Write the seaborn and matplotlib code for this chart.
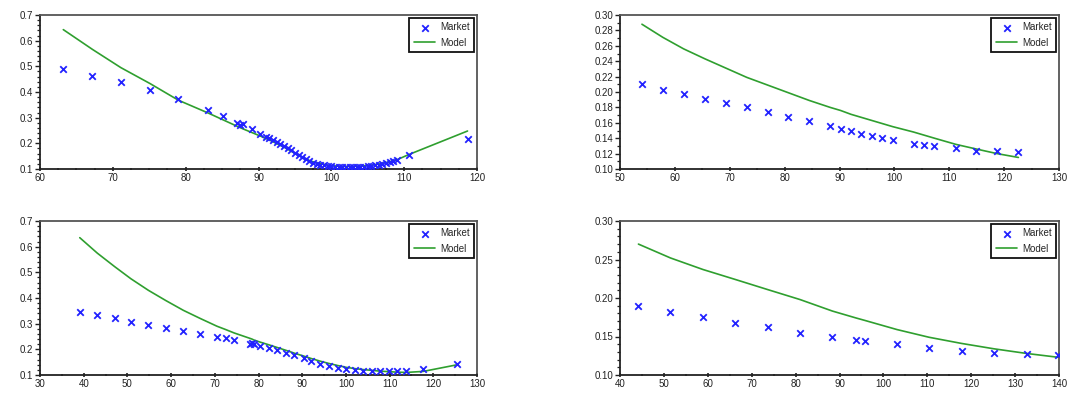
import numpy as np
import pandas as pd
import matplotlib
matplotlib.use("Agg")
import matplotlib.pyplot as plt
from matplotlib.ticker import MultipleLocator
import seaborn as sns

# ---------------- data ----------------
# Panel 1 (top-left)
p1_strike = [63.2, 67.2, 71.1, 75.1, 79.0, 83.1, 85.1, 87.1, 87.5, 87.9, 89.1, 90.2,
             91.0, 91.5, 92.0, 92.5, 93.0, 93.5, 94.0, 94.5, 95.0, 95.5, 96.0, 96.5,
             97.0, 97.5, 98.0, 98.5, 99.0, 99.5, 100.0, 100.5, 101.0, 101.5, 102.0,
             102.5, 103.0, 103.5, 104.0, 104.5, 105.0, 105.5, 106.0, 106.5, 107.0,
             107.5, 108.0, 108.5, 109.0, 110.7, 118.7]
p1_market = [0.489, 0.463, 0.438, 0.407, 0.371, 0.331, 0.307, 0.279, 0.272, 0.276, 0.256, 0.237,
             0.226, 0.220, 0.213, 0.206, 0.199, 0.191, 0.183, 0.175, 0.161, 0.153, 0.145, 0.138,
             0.131, 0.125, 0.120, 0.116, 0.114, 0.112, 0.110, 0.109, 0.108, 0.108, 0.107,
             0.107, 0.107, 0.108, 0.108, 0.109, 0.110, 0.112, 0.114, 0.117, 0.120,
             0.123, 0.127, 0.131, 0.135, 0.156, 0.217]
p1_model = [0.643, 0.566, 0.495, 0.433, 0.368, 0.318, 0.292, 0.266, 0.261, 0.256, 0.242, 0.229,
            0.219, 0.213, 0.206, 0.199, 0.192, 0.185, 0.177, 0.169, 0.161, 0.153, 0.146, 0.139,
            0.133, 0.128, 0.124, 0.121, 0.118, 0.115, 0.113, 0.112, 0.111, 0.110, 0.110,
            0.110, 0.110, 0.111, 0.111, 0.112, 0.114, 0.115, 0.117, 0.119, 0.122,
            0.125, 0.128, 0.132, 0.136, 0.157, 0.248]

# Panel 2 (top-right)
p2_strike = [54.0, 57.8, 61.6, 65.5, 69.3, 73.1, 76.9, 80.7, 84.5, 88.3, 90.2, 92.1,
             94.0, 95.9, 97.8, 99.7, 103.5, 105.4, 107.3, 111.2, 114.9, 118.7, 122.6]
p2_market = [0.210, 0.203, 0.197, 0.191, 0.186, 0.180, 0.174, 0.168, 0.162, 0.156, 0.152, 0.149,
             0.146, 0.143, 0.140, 0.138, 0.133, 0.131, 0.130, 0.127, 0.124, 0.123, 0.122]
p2_model = [0.288, 0.271, 0.256, 0.243, 0.231, 0.219, 0.209, 0.199, 0.189, 0.180, 0.176, 0.171,
            0.167, 0.163, 0.159, 0.155, 0.148, 0.144, 0.140, 0.132, 0.126, 0.120, 0.115]

# Panel 3 (bottom-left)
p3_strike = [39.1, 43.1, 47.1, 50.8, 54.8, 58.8, 62.8, 66.7, 70.5, 72.5, 74.4, 78.0, 78.5,
             79.0, 80.4, 82.3, 84.3, 86.3, 88.2, 90.3, 92.1, 94.1, 96.1, 98.1, 100.0,
             102.0, 104.0, 106.0, 107.8, 109.9, 111.8, 113.8, 117.7, 125.5]
p3_market = [0.347, 0.334, 0.322, 0.308, 0.295, 0.283, 0.270, 0.260, 0.250, 0.243, 0.235, 0.222, 0.224,
             0.222, 0.214, 0.207, 0.197, 0.186, 0.177, 0.166, 0.155, 0.144, 0.135, 0.128, 0.123,
             0.118, 0.116, 0.114, 0.114, 0.114, 0.115, 0.116, 0.123, 0.142]
p3_model = [0.635, 0.575, 0.522, 0.475, 0.430, 0.390, 0.352, 0.320, 0.290, 0.277, 0.264, 0.243, 0.240,
            0.236, 0.228, 0.218, 0.207, 0.196, 0.185, 0.174, 0.164, 0.154, 0.145, 0.137, 0.130,
            0.125, 0.121, 0.118, 0.115, 0.113, 0.111, 0.110, 0.114, 0.140]

# Panel 4 (bottom-right)
p4_strike = [44.2, 51.5, 58.9, 66.3, 73.6, 81.0, 88.4, 93.8, 95.7, 103.1, 110.4, 117.8,
             125.2, 132.6, 139.8]
p4_market = [0.190, 0.182, 0.175, 0.167, 0.162, 0.155, 0.149, 0.145, 0.1445, 0.140, 0.1355,
             0.1315, 0.128, 0.127, 0.126]
p4_model = [0.270, 0.252, 0.237, 0.224, 0.211, 0.198, 0.183, 0.174, 0.171, 0.159, 0.149,
            0.141, 0.134, 0.128, 0.123]

panels = [
    dict(x=p1_strike, m=p1_market, v=p1_model, xlim=(60, 120), ylim=(0.1, 0.7),
         xmaj=10, xmin=2.5, ymaj=0.1, ymin=0.02, pos=(40, 15, 477, 169)),
    dict(x=p2_strike, m=p2_market, v=p2_model, xlim=(50, 130), ylim=(0.10, 0.30),
         xmaj=10, xmin=5, ymaj=0.02, ymin=0.01, pos=(620, 15, 1059, 169)),
    dict(x=p3_strike, m=p3_market, v=p3_model, xlim=(30, 130), ylim=(0.1, 0.7),
         xmaj=10, xmin=5, ymaj=0.1, ymin=0.02, pos=(40, 221, 477, 375)),
    dict(x=p4_strike, m=p4_market, v=p4_model, xlim=(40, 140), ylim=(0.10, 0.30),
         xmaj=10, xmin=5, ymaj=0.05, ymin=0.01, pos=(620, 221, 1059, 375)),
]

# ---------------- style ----------------
sns.set_style("white")
plt.rcParams['font.family'] = ['Liberation Sans', 'DejaVu Sans']

W, H = 1068, 398
fig = plt.figure(figsize=(W / 100, H / 100), dpi=100)

BLUE = '#2222ff'
GREEN = '#2f9f2f'

for p in panels:
    x0, y0, x1, y1 = p['pos']
    ax = fig.add_axes([x0 / W, 1 - y1 / H, (x1 - x0) / W, (y1 - y0) / H])
    df = pd.DataFrame({'strike': p['x'], 'market': p['m'], 'model': p['v']})
    sns.lineplot(data=df, x='strike', y='model', ax=ax, color=GREEN, lw=1.2,
                 sort=False, estimator=None, label='Model', zorder=2)
    sns.scatterplot(data=df, x='strike', y='market', ax=ax, marker='x', color=BLUE,
                    s=22, linewidth=1.3, label='Market', zorder=3)
    ax.set_xlim(*p['xlim'])
    ax.set_ylim(*p['ylim'])
    ax.xaxis.set_major_locator(MultipleLocator(p['xmaj']))
    ax.xaxis.set_minor_locator(MultipleLocator(p['xmin']))
    ax.yaxis.set_major_locator(MultipleLocator(p['ymaj']))
    ax.yaxis.set_minor_locator(MultipleLocator(p['ymin']))
    ax.set_xlabel('')
    ax.set_ylabel('')
    ax.tick_params(axis='both', which='both', labelsize=7, colors='#222222', pad=1.5)
    ax.tick_params(axis='y', which='major', direction='out', length=3.5, width=1.0, left=True)
    ax.tick_params(axis='y', which='minor', direction='out', length=2.0, width=0.9, left=True)
    ax.tick_params(axis='x', which='major', direction='inout', length=2.5, width=1.2, bottom=True)
    ax.tick_params(axis='x', which='minor', direction='inout', length=2.0, width=1.2, bottom=True)
    for s in ax.spines.values():
        s.set_visible(True)
        s.set_color('#555555')
        s.set_linewidth(1.3)
    ax.spines['left'].set_color('#222222')
    ax.spines['bottom'].set_color('#222222')

    handles, labels = ax.get_legend_handles_labels()
    order = [labels.index('Market'), labels.index('Model')]
    leg = ax.legend([handles[i] for i in order], [labels[i] for i in order],
                    loc='upper right', fontsize=7, frameon=True, fancybox=False,
                    framealpha=1, edgecolor='#111111', borderpad=0.45,
                    handlelength=2.2, handletextpad=0.5, labelspacing=0.55,
                    borderaxespad=0.3)
    leg.get_frame().set_linewidth(1.3)

fig.savefig('out.png', dpi=100)
